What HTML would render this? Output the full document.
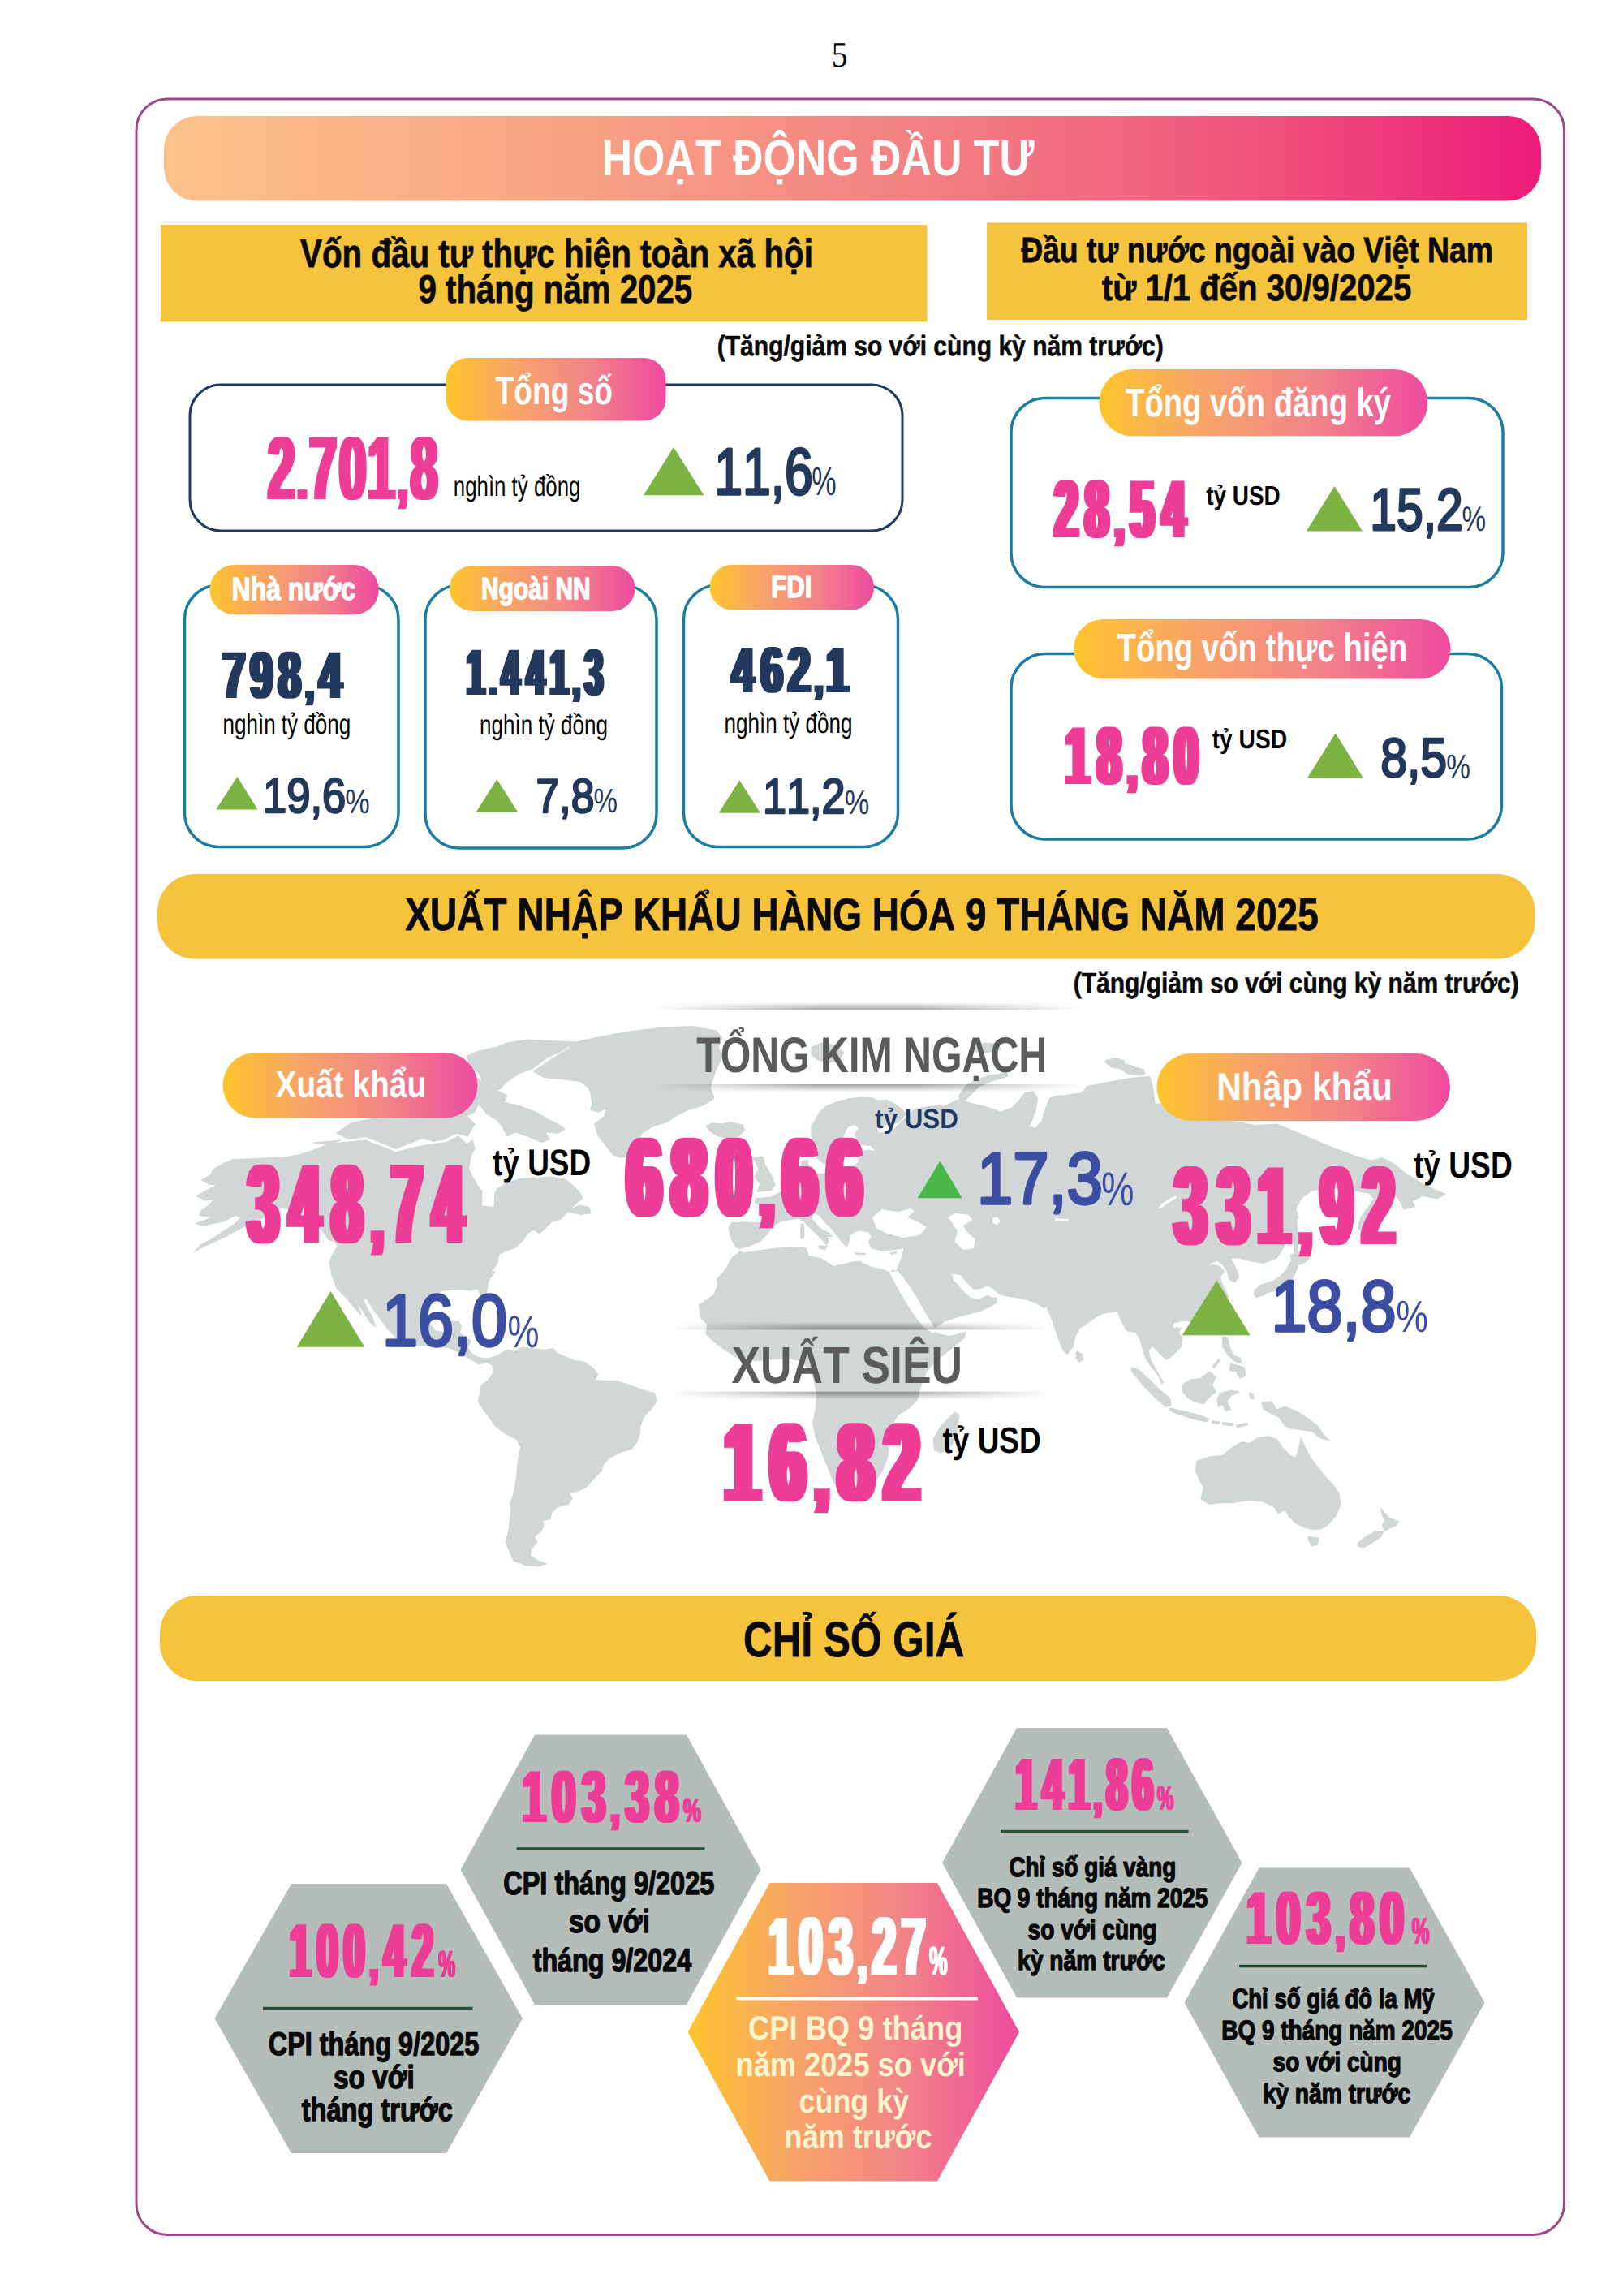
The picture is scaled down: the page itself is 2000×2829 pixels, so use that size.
<!DOCTYPE html>
<html lang="vi"><head><meta charset="utf-8"><title>Hoạt động đầu tư - Xuất nhập khẩu - Chỉ số giá</title>
<style>
html,body{margin:0;padding:0;background:#fff}
body{width:2000px;height:2829px;overflow:hidden}
svg{display:block}
text{font-kerning:none;text-rendering:geometricPrecision;white-space:pre}
</style></head><body>
<svg width="2000" height="2829" viewBox="0 0 2000 2829">
<defs>
<linearGradient id="gBanner" x1="0" x2="1" y1="0" y2="0"><stop offset="0" stop-color="#fcc38b"/><stop offset="0.3" stop-color="#f8a384"/><stop offset="0.55" stop-color="#f38083"/><stop offset="0.8" stop-color="#ee527c"/><stop offset="1" stop-color="#ec1c79"/></linearGradient>
<linearGradient id="gPill" x1="0" x2="1" y1="0" y2="0"><stop offset="0" stop-color="#fdc52c"/><stop offset="0.3" stop-color="#f8a666"/><stop offset="0.65" stop-color="#f28488"/><stop offset="1" stop-color="#ee4b9f"/></linearGradient>
<linearGradient id="gHex" x1="0" x2="1" y1="0" y2="0"><stop offset="0" stop-color="#fdc52c"/><stop offset="0.3" stop-color="#f8a666"/><stop offset="0.65" stop-color="#f28488"/><stop offset="1" stop-color="#ee4b9f"/></linearGradient>
<linearGradient id="gShT" x1="0" x2="0" y1="0" y2="1"><stop offset="0" stop-color="#000" stop-opacity="0"/><stop offset="1" stop-color="#000" stop-opacity="0.35"/></linearGradient>
<linearGradient id="gShB" x1="0" x2="0" y1="0" y2="1"><stop offset="0" stop-color="#000" stop-opacity="0.35"/><stop offset="1" stop-color="#000" stop-opacity="0"/></linearGradient>
<linearGradient id="gFade" x1="0" x2="1" y1="0" y2="0"><stop offset="0" stop-color="#000"/><stop offset="0.38" stop-color="#fff"/><stop offset="0.62" stop-color="#fff"/><stop offset="1" stop-color="#000"/></linearGradient>
<mask id="mFade" maskContentUnits="objectBoundingBox"><rect x="0" y="0" width="1" height="1" fill="url(#gFade)"/></mask>
<filter id="fat0_8" x="-5%" y="-5%" width="110%" height="110%"><feMorphology operator="dilate" radius="0.8 0"/></filter><filter id="fat2_5" x="-5%" y="-5%" width="110%" height="110%"><feMorphology operator="dilate" radius="2.5 0"/></filter><filter id="fat3_0" x="-5%" y="-5%" width="110%" height="110%"><feMorphology operator="dilate" radius="3.0 0"/></filter><filter id="fat3_5" x="-5%" y="-5%" width="110%" height="110%"><feMorphology operator="dilate" radius="3.5 0"/></filter><filter id="fat5_0" x="-5%" y="-5%" width="110%" height="110%"><feMorphology operator="dilate" radius="5.0 0"/></filter><filter id="fat5_5" x="-5%" y="-5%" width="110%" height="110%"><feMorphology operator="dilate" radius="5.5 0"/></filter>
</defs>
<rect x="0" y="0" width="2000" height="2829" fill="#fff"/>
<text transform="translate(1024.69 82.00) scale(0.9027 1)" font-size="44.00" font-family="'Liberation Serif',serif" font-weight="400" fill="#000" >5</text>
<rect x="168.0" y="122.0" width="1759.5" height="2631.5" rx="38.0" ry="38.0" fill="none" stroke="#9e4784" stroke-width="3" />
<rect x="202.0" y="143.0" width="1697.0" height="104.5" rx="41.0" ry="41.0" fill="url(#gBanner)" />
<text transform="translate(741.53 216.00) scale(0.8301 1)" font-size="62.50" font-family="'Liberation Sans',sans-serif" font-weight="700" fill="#fff" >HOẠT ĐỘNG ĐẦU TƯ</text>
<rect x="198.0" y="277.0" width="944.5" height="119.5" rx="0.0" ry="0.0" fill="#f6c43c" />
<text transform="translate(370.05 328.60) scale(0.8233 1)" font-size="48.98" font-family="'Liberation Sans',sans-serif" font-weight="700" fill="#0a0a0a" stroke="#0a0a0a" stroke-width="0.80" stroke-linejoin="round" >Vốn đầu tư thực hiện toàn xã hội</text>
<text transform="translate(515.43 372.60) scale(0.8219 1)" font-size="48.98" font-family="'Liberation Sans',sans-serif" font-weight="700" fill="#0a0a0a" stroke="#0a0a0a" stroke-width="0.80" stroke-linejoin="round" >9 tháng năm 2025</text>
<rect x="1216.0" y="274.5" width="666.0" height="119.5" rx="0.0" ry="0.0" fill="#f6c43c" />
<text transform="translate(1258.19 322.60) scale(0.8492 1)" font-size="43.90" font-family="'Liberation Sans',sans-serif" font-weight="700" fill="#0a0a0a" stroke="#0a0a0a" stroke-width="0.80" stroke-linejoin="round" >Đầu tư nước ngoài vào Việt Nam</text>
<text transform="translate(1357.86 369.60) scale(0.8846 1)" font-size="45.35" font-family="'Liberation Sans',sans-serif" font-weight="700" fill="#0a0a0a" stroke="#0a0a0a" stroke-width="0.80" stroke-linejoin="round" >từ 1/1 đến 30/9/2025</text>
<text transform="translate(883.76 438.30) scale(0.8644 1)" font-size="34.74" font-family="'Liberation Sans',sans-serif" font-weight="700" fill="#0a0a0a" stroke="#0a0a0a" stroke-width="0.60" stroke-linejoin="round" >(Tăng/giảm so với cùng kỳ năm trước)</text>
<rect x="234.0" y="474.0" width="878.0" height="180.0" rx="38.0" ry="38.0" fill="none" stroke="#203764" stroke-width="3" />
<rect x="549.5" y="441.0" width="271.0" height="77.5" rx="27.0" ry="27.0" fill="url(#gPill)" />
<text transform="translate(610.58 497.50) scale(0.7630 1)" font-size="48.69" font-family="'Liberation Sans',sans-serif" font-weight="700" fill="#fff" >Tổng số</text>
<g filter="url(#fat3_0)"><text transform="translate(0 615.20) scale(0.5403 1)" y="0" font-size="110.38" font-family="'Liberation Sans',sans-serif" font-weight="700" fill="#ee3d96"><tspan x="611.4">2</tspan><tspan x="678.5" font-size="79.48">.</tspan><tspan x="705.9">7</tspan><tspan x="773.7">0</tspan><tspan x="839.1">1</tspan><tspan x="907.6" font-size="79.48">,</tspan><tspan x="936.4">8</tspan></text></g>
<text transform="translate(558.78 611.20) scale(0.7382 1)" font-size="35.00" font-family="'Liberation Sans',sans-serif" font-weight="400" fill="#000" >nghìn tỷ đồng</text>
<polygon points="830.0,551.0 793.0,610.3 867.5,610.3" fill="#7cb342"/>
<text transform="translate(880.21 609.06) scale(0.7695 1)" font-size="81.17" font-family="'Liberation Sans',sans-serif" font-weight="400" fill="#22395c" stroke="#22395c" stroke-width="3.28" stroke-linejoin="round" stroke-linecap="round">11,6</text>
<text transform="translate(1000.28 610.30) scale(0.6892 1)" font-size="49.50" font-family="'Liberation Sans',sans-serif" font-weight="400" fill="#22395c" >%</text>
<rect x="227.5" y="721.0" width="263.5" height="322.5" rx="42.0" ry="42.0" fill="none" stroke="#1b7ca2" stroke-width="3.5" />
<rect x="258.5" y="696.0" width="208.3" height="61.3" rx="30.6" ry="30.6" fill="url(#gPill)" />
<text transform="translate(285.57 739.15) scale(0.8121 1)" font-size="39.39" font-family="'Liberation Sans',sans-serif" font-weight="700" fill="#fff" stroke="#fff" stroke-width="1.50" stroke-linejoin="round" >Nhà nước</text>
<g filter="url(#fat2_5)"><text transform="translate(0 860.00) scale(0.6135 1)" y="0" font-size="81.93" font-family="'Liberation Sans',sans-serif" font-weight="700" fill="#22395c"><tspan x="447.2">7</tspan><tspan x="502.5">9</tspan><tspan x="558.6">8</tspan><tspan x="613.8" font-size="58.99">,</tspan><tspan x="641.1">4</tspan></text></g>
<text transform="translate(274.47 903.70) scale(0.7440 1)" font-size="35.00" font-family="'Liberation Sans',sans-serif" font-weight="400" fill="#000" >nghìn tỷ đồng</text>
<polygon points="292.4,957.0 266.1,997.5 317.6,997.5" fill="#7cb342"/>
<text transform="translate(324.06 1001.08) scale(0.8716 1)" font-size="60.24" font-family="'Liberation Sans',sans-serif" font-weight="400" fill="#22395c" stroke="#22395c" stroke-width="2.44" stroke-linejoin="round" stroke-linecap="round">19,6</text>
<text transform="translate(425.28 1002.00) scale(0.8151 1)" font-size="42.00" font-family="'Liberation Sans',sans-serif" font-weight="400" fill="#22395c" >%</text>
<rect x="524.0" y="721.0" width="285.0" height="324.0" rx="42.0" ry="42.0" fill="none" stroke="#1b7ca2" stroke-width="3.5" />
<rect x="554.0" y="697.0" width="228.5" height="56.0" rx="28.0" ry="28.0" fill="url(#gPill)" />
<text transform="translate(593.09 737.75) scale(0.7917 1)" font-size="37.79" font-family="'Liberation Sans',sans-serif" font-weight="700" fill="#fff" stroke="#fff" stroke-width="1.50" stroke-linejoin="round" >Ngoài NN</text>
<g filter="url(#fat2_5)"><text transform="translate(0 856.40) scale(0.5039 1)" y="0" font-size="80.23" font-family="'Liberation Sans',sans-serif" font-weight="700" fill="#22395c"><tspan x="1141.1">1</tspan><tspan x="1197.7" font-size="57.76">.</tspan><tspan x="1226.6">4</tspan><tspan x="1287.7">4</tspan><tspan x="1344.9">1</tspan><tspan x="1401.5" font-size="57.76">,</tspan><tspan x="1429.9">3</tspan></text></g>
<text transform="translate(591.07 904.50) scale(0.7440 1)" font-size="35.00" font-family="'Liberation Sans',sans-serif" font-weight="400" fill="#000" >nghìn tỷ đồng</text>
<polygon points="612.4,960.3 586.5,1000.7 638.2,1000.7" fill="#7cb342"/>
<text transform="translate(660.59 1000.51) scale(0.8766 1)" font-size="59.01" font-family="'Liberation Sans',sans-serif" font-weight="400" fill="#22395c" stroke="#22395c" stroke-width="2.39" stroke-linejoin="round" stroke-linecap="round">7,8</text>
<text transform="translate(731.52 1001.40) scale(0.7889 1)" font-size="42.00" font-family="'Liberation Sans',sans-serif" font-weight="400" fill="#22395c" >%</text>
<rect x="842.5" y="721.0" width="264.0" height="322.5" rx="42.0" ry="42.0" fill="none" stroke="#1b7ca2" stroke-width="3.5" />
<rect x="874.5" y="696.0" width="202.5" height="55.5" rx="27.8" ry="27.8" fill="url(#gPill)" />
<text transform="translate(950.13 736.05) scale(0.8252 1)" font-size="37.79" font-family="'Liberation Sans',sans-serif" font-weight="700" fill="#fff" stroke="#fff" stroke-width="1.50" stroke-linejoin="round" >FDI</text>
<g filter="url(#fat2_5)"><text transform="translate(0 853.30) scale(0.6191 1)" y="0" font-size="80.09" font-family="'Liberation Sans',sans-serif" font-weight="700" fill="#22395c"><tspan x="1456.7">4</tspan><tspan x="1513.8">6</tspan><tspan x="1568.6">2</tspan><tspan x="1621.9" font-size="57.66">,</tspan><tspan x="1644.9">1</tspan></text></g>
<text transform="translate(892.57 902.50) scale(0.7440 1)" font-size="35.00" font-family="'Liberation Sans',sans-serif" font-weight="400" fill="#000" >nghìn tỷ đồng</text>
<polygon points="911.3,961.4 885.6,1001.7 937.1,1001.7" fill="#7cb342"/>
<text transform="translate(939.98 1001.77) scale(0.8597 1)" font-size="60.78" font-family="'Liberation Sans',sans-serif" font-weight="400" fill="#22395c" stroke="#22395c" stroke-width="2.46" stroke-linejoin="round" stroke-linecap="round">11,2</text>
<text transform="translate(1040.68 1002.70) scale(0.8180 1)" font-size="42.00" font-family="'Liberation Sans',sans-serif" font-weight="400" fill="#22395c" >%</text>
<rect x="1246.0" y="490.5" width="606.0" height="233.0" rx="42.0" ry="42.0" fill="none" stroke="#1b7ca2" stroke-width="3.5" />
<rect x="1354.5" y="455.0" width="404.8" height="82.3" rx="41.0" ry="41.0" fill="url(#gPill)" />
<text transform="translate(1387.07 513.00) scale(0.7737 1)" font-size="49.42" font-family="'Liberation Sans',sans-serif" font-weight="700" fill="#fff" >Tổng vốn đăng ký</text>
<g filter="url(#fat3_5)"><text transform="translate(0 662.00) scale(0.5106 1)" y="0" font-size="101.00" font-family="'Liberation Sans',sans-serif" font-weight="700" fill="#ee3d96"><tspan x="2545.3">2</tspan><tspan x="2618.8">8</tspan><tspan x="2691.5" font-size="72.72">,</tspan><tspan x="2728.2">5</tspan><tspan x="2804.6">4</tspan></text></g>
<text transform="translate(1486.16 621.50) scale(0.8350 1)" font-size="33.43" font-family="'Liberation Sans',sans-serif" font-weight="700" fill="#000" >tỷ USD</text>
<polygon points="1644.5,598.9 1609.9,654.5 1679.0,654.5" fill="#7cb342"/>
<text transform="translate(1688.31 653.02) scale(0.8062 1)" font-size="73.02" font-family="'Liberation Sans',sans-serif" font-weight="400" fill="#22395c" stroke="#22395c" stroke-width="2.95" stroke-linejoin="round" stroke-linecap="round">15,2</text>
<text transform="translate(1801.51 654.00) scale(0.7734 1)" font-size="43.00" font-family="'Liberation Sans',sans-serif" font-weight="400" fill="#22395c" >%</text>
<rect x="1246.0" y="805.5" width="604.5" height="228.5" rx="42.0" ry="42.0" fill="none" stroke="#1b7ca2" stroke-width="3.5" />
<rect x="1323.0" y="763.0" width="464.5" height="73.5" rx="36.7" ry="36.7" fill="url(#gPill)" />
<text transform="translate(1376.57 815.00) scale(0.7757 1)" font-size="49.42" font-family="'Liberation Sans',sans-serif" font-weight="700" fill="#fff" >Tổng vốn thực hiện</text>
<g filter="url(#fat3_5)"><text transform="translate(0 966.00) scale(0.5266 1)" y="0" font-size="101.00" font-family="'Liberation Sans',sans-serif" font-weight="700" fill="#ee3d96"><tspan x="2493.4">1</tspan><tspan x="2567.3">8</tspan><tspan x="2639.1" font-size="72.72">,</tspan><tspan x="2675.0">8</tspan><tspan x="2747.8">0</tspan></text></g>
<text transform="translate(1493.66 922.00) scale(0.8443 1)" font-size="33.43" font-family="'Liberation Sans',sans-serif" font-weight="700" fill="#000" >tỷ USD</text>
<polygon points="1645.7,903.2 1610.9,958.8 1680.1,958.8" fill="#7cb342"/>
<text transform="translate(1701.13 957.42) scale(0.8671 1)" font-size="67.99" font-family="'Liberation Sans',sans-serif" font-weight="400" fill="#22395c" stroke="#22395c" stroke-width="2.75" stroke-linejoin="round" stroke-linecap="round">8,5</text>
<text transform="translate(1782.21 958.60) scale(0.7947 1)" font-size="42.00" font-family="'Liberation Sans',sans-serif" font-weight="400" fill="#22395c" >%</text>
<rect x="194.0" y="1077.0" width="1697.5" height="104.5" rx="46.0" ry="46.0" fill="#f6c43c" />
<text transform="translate(499.42 1146.10) scale(0.8227 1)" font-size="55.96" font-family="'Liberation Sans',sans-serif" font-weight="700" fill="#0a0a0a" stroke="#0a0a0a" stroke-width="0.80" stroke-linejoin="round" >XUẤT NHẬP KHẨU HÀNG HÓA 9 THÁNG NĂM 2025</text>
<text transform="translate(1322.77 1223.00) scale(0.8628 1)" font-size="34.74" font-family="'Liberation Sans',sans-serif" font-weight="700" fill="#0a0a0a" stroke="#0a0a0a" stroke-width="0.60" stroke-linejoin="round" >(Tăng/giảm so với cùng kỳ năm trước)</text>
<g id="map">
<path fill="#d1d7d6" stroke="#d1d7d6" stroke-width="1.2" stroke-linejoin="round" d="M606.7 1680.0 L613.3 1670.0 L625.0 1663.3 L633.3 1665.7 L643.3 1660.0 L656.7 1661.7 L670.0 1663.3 L681.7 1661.7 L685.0 1666.7 L696.7 1671.7 L708.3 1676.7 L720.0 1678.3 L730.0 1685.0 L736.7 1693.3 L733.3 1700.0 L745.0 1701.7 L760.0 1701.7 L776.7 1706.7 L793.3 1713.3 L806.7 1716.7 L809.3 1726.7 L803.3 1735.0 L795.0 1743.3 L789.3 1755.0 L788.3 1766.7 L785.0 1776.7 L778.3 1785.0 L763.3 1790.0 L750.0 1796.7 L743.3 1805.0 L741.7 1811.7 L731.7 1821.7 L723.3 1831.7 L713.3 1836.7 L701.7 1840.0 L705.0 1846.7 L700.0 1853.3 L686.7 1856.7 L680.0 1863.3 L678.3 1871.7 L668.3 1873.3 L670.0 1881.7 L665.0 1888.3 L658.3 1893.3 L661.7 1900.0 L655.0 1908.3 L653.3 1916.7 L663.3 1923.3 L673.3 1926.7 L663.3 1930.0 L646.7 1928.3 L633.3 1923.3 L628.3 1913.3 L623.3 1900.0 L626.7 1886.7 L628.3 1873.3 L630.0 1860.0 L628.3 1853.3 L633.3 1840.0 L636.7 1820.0 L638.3 1800.0 L641.7 1783.3 L636.7 1773.3 L623.3 1766.7 L610.0 1756.7 L601.7 1745.0 L593.3 1733.3 L589.3 1726.7 L591.7 1716.7 L593.3 1706.7 L601.7 1700.0 L608.3 1691.7Z M420.0 1405.0 L405.0 1410.0 L385.0 1417.5 L370.0 1422.5 L350.0 1426.2 L312.5 1427.5 L287.5 1428.8 L275.0 1433.8 L262.5 1441.2 L260.0 1447.5 L248.8 1453.8 L257.5 1458.8 L267.5 1460.0 L255.0 1466.2 L242.5 1473.8 L252.5 1478.8 L265.0 1477.5 L257.5 1485.0 L247.5 1492.5 L246.2 1497.5 L257.5 1498.8 L267.5 1496.2 L252.5 1503.8 L241.2 1507.5 L250.0 1510.0 L275.0 1505.0 L290.0 1497.5 L297.5 1500.0 L290.0 1507.5 L275.0 1517.5 L260.0 1527.5 L247.5 1533.8 L239.5 1542.5 L252.5 1535.0 L270.0 1527.5 L287.5 1518.8 L302.5 1510.0 L325.0 1500.0 L347.5 1487.5 L380.0 1497.5 L400.0 1520.0 L405.0 1527.5 L412.5 1530.0 L416.2 1535.0 L410.0 1545.0 L406.2 1555.0 L408.8 1570.0 L415.0 1587.5 L427.5 1600.0 L437.5 1612.5 L445.0 1619.8 L438.3 1600.0 L446.7 1615.0 L456.0 1629.3 L462.7 1634.7 L459.3 1624.0 L452.0 1610.7 L446.7 1600.0 L451.7 1600.0 L460.0 1613.3 L470.0 1626.7 L480.0 1640.0 L490.0 1650.0 L506.7 1656.7 L530.0 1658.3 L553.3 1660.7 L566.7 1666.7 L580.0 1675.0 L590.0 1680.7 L600.0 1679.0 L606.7 1681.7 L613.3 1670.7 L603.3 1673.3 L596.7 1674.0 L586.7 1671.7 L580.0 1666.7 L576.7 1660.0 L580.0 1651.7 L571.7 1646.7 L566.7 1641.7 L568.3 1633.3 L565.0 1628.3 L556.7 1628.3 L553.3 1636.7 L546.7 1641.7 L536.7 1640.0 L530.0 1631.7 L526.7 1620.0 L528.3 1606.7 L533.3 1596.7 L543.3 1590.7 L553.3 1589.3 L566.7 1588.3 L580.0 1590.0 L588.3 1587.3 L591.7 1595.0 L595.0 1598.3 L598.3 1596.7 L600.7 1587.3 L601.7 1578.3 L610.0 1566.7 L605.0 1567.5 L612.5 1557.5 L615.0 1545.0 L627.5 1540.0 L635.0 1537.5 L645.0 1527.5 L650.0 1520.0 L657.5 1515.0 L665.0 1520.0 L670.0 1515.0 L680.0 1505.0 L690.0 1502.5 L700.0 1492.5 L715.0 1496.2 L727.5 1495.0 L726.2 1487.5 L715.0 1485.0 L702.5 1490.0 L712.5 1480.0 L717.5 1476.2 L715.0 1470.0 L705.0 1460.0 L695.0 1452.5 L680.0 1450.0 L640.0 1452.5 L625.0 1457.5 L612.5 1465.0 L610.0 1470.0 L608.8 1487.5 L593.8 1486.2 L593.8 1467.5 L587.5 1460.0 L582.5 1450.0 L577.5 1440.0 L580.0 1425.0 L585.0 1415.0 L582.5 1405.0 L575.0 1410.0 L565.0 1400.0 L550.0 1407.5 L530.0 1410.0 L505.0 1415.0 L487.5 1420.0 L470.0 1412.5 L450.0 1405.0 L425.0 1407.5 L400.0 1410.0 L385.0 1408.0Z M415.0 1396.2 L432.5 1383.8 L462.5 1377.5 L482.5 1370.0 L505.0 1367.5 L540.0 1370.0 L575.0 1375.0 L585.0 1385.0 L576.2 1400.0 L562.5 1396.2 L547.5 1403.8 L535.0 1406.2 L520.0 1402.5 L505.0 1408.8 L487.5 1415.5 L475.0 1410.0 L450.0 1400.5 L430.0 1403.8Z M575.0 1301.2 L590.0 1295.0 L612.5 1290.0 L625.0 1285.0 L650.0 1281.2 L675.0 1282.5 L712.5 1283.8 L745.0 1277.5 L770.0 1272.5 L800.0 1268.8 L825.0 1267.5 L825.0 1290.0 L785.0 1292.5 L757.5 1297.5 L732.5 1297.5 L712.5 1286.2 L700.0 1290.0 L687.5 1297.5 L675.0 1302.5 L665.0 1310.0 L655.0 1317.5 L640.0 1322.5 L625.0 1332.5 L615.0 1342.5 L600.0 1342.5 L595.0 1332.5 L590.0 1322.5 L580.0 1315.0Z M590.0 1360.0 L600.0 1355.0 L617.5 1357.5 L640.0 1362.5 L660.0 1370.0 L672.5 1377.5 L687.5 1385.0 L696.2 1391.2 L687.5 1396.2 L672.5 1395.0 L677.5 1403.8 L667.5 1407.5 L650.0 1400.0 L635.0 1395.0 L625.0 1400.0 L620.0 1390.0 L612.5 1380.0 L600.0 1372.5Z M580.0 1322.5 L597.5 1335.0 L615.0 1345.0 L625.0 1350.0 L620.0 1360.0 L600.0 1355.0 L590.0 1360.0 L585.0 1370.0 L575.0 1375.0 L555.0 1370.0 L540.0 1360.0 L550.0 1342.5 L565.0 1330.0Z M657.5 1320.0 L680.0 1305.0 L700.0 1292.5 L715.0 1282.5 L740.0 1277.5 L775.0 1271.2 L815.0 1266.2 L852.5 1264.5 L882.5 1270.0 L890.0 1278.8 L885.0 1290.0 L890.0 1302.5 L882.5 1317.5 L875.0 1340.0 L880.0 1352.5 L877.5 1355.0 L865.0 1362.5 L847.5 1367.5 L832.5 1375.0 L822.5 1382.5 L805.0 1387.5 L792.5 1395.0 L780.0 1412.5 L770.0 1425.0 L765.0 1426.2 L755.0 1422.5 L747.5 1412.5 L737.5 1400.0 L732.5 1385.0 L745.0 1375.0 L747.5 1365.0 L737.5 1370.0 L727.5 1367.5 L730.0 1360.0 L727.5 1345.0 L725.0 1340.0 L715.0 1332.5 L695.0 1330.0 L670.0 1327.5Z M870.0 1387.5 L877.5 1383.8 L890.0 1385.0 L900.0 1382.5 L915.0 1386.2 L917.5 1392.5 L910.0 1400.0 L895.0 1402.5 L882.5 1398.8 L875.0 1393.8Z M900.0 1523.3 L898.3 1511.7 L901.7 1506.7 L920.0 1506.0 L940.0 1507.3 L950.0 1496.7 L943.3 1486.7 L930.0 1481.7 L931.7 1476.7 L950.0 1475.0 L963.3 1468.3 L973.3 1460.0 L983.3 1453.3 L986.7 1443.3 L988.3 1430.0 L995.0 1430.0 L996.7 1441.7 L1006.7 1446.7 L1026.7 1445.0 L1046.7 1441.7 L1058.3 1431.7 L1056.7 1420.0 L1070.0 1417.3 L1080.0 1418.3 L1073.3 1411.7 L1060.0 1410.0 L1053.3 1398.3 L1058.3 1390.0 L1053.3 1385.0 L1044.0 1389.3 L1038.3 1401.7 L1031.7 1416.7 L1023.3 1430.0 L1015.0 1434.0 L1006.7 1426.7 L1003.3 1413.3 L1000.0 1400.0 L1000.0 1386.7 L1005.0 1380.0 L1010.0 1370.0 L1020.0 1362.3 L1032.3 1357.3 L1047.3 1353.7 L1062.3 1352.0 L1075.0 1353.0 L1082.3 1356.0 L1092.3 1355.0 L1100.0 1358.7 L1110.0 1365.0 L1116.7 1372.7 L1106.7 1383.3 L1086.7 1386.7 L1078.3 1383.3 L1083.3 1396.7 L1100.0 1393.3 L1113.3 1380.0 L1126.7 1366.7 L1146.7 1363.3 L1166.7 1361.7 L1180.0 1355.0 L1200.0 1360.0 L1213.3 1363.3 L1233.3 1370.0 L1246.7 1365.0 L1255.0 1356.7 L1263.3 1346.7 L1273.3 1345.0 L1278.3 1353.3 L1276.7 1366.7 L1271.7 1380.0 L1266.7 1390.0 L1283.3 1383.3 L1288.3 1366.7 L1293.3 1353.3 L1303.3 1350.0 L1310.0 1350.0 L1333.3 1346.7 L1340.0 1338.3 L1366.7 1333.3 L1393.3 1328.3 L1416.7 1326.7 L1416.7 1326.7 L1420.0 1336.7 L1423.3 1360.0 L1473.3 1360.0 L1520.0 1381.7 L1546.7 1386.7 L1573.3 1385.0 L1593.3 1393.3 L1616.7 1403.3 L1640.0 1413.3 L1666.7 1423.3 L1690.0 1430.0 L1703.3 1426.7 L1716.7 1433.3 L1733.3 1446.7 L1750.0 1456.7 L1770.0 1466.7 L1781.7 1471.7 L1770.0 1476.7 L1753.3 1473.3 L1740.0 1480.0 L1743.3 1486.7 L1730.0 1490.0 L1723.3 1476.7 L1720.0 1473.3 L1706.7 1486.7 L1690.0 1503.3 L1676.7 1516.7 L1673.3 1513.3 L1676.7 1500.0 L1686.7 1486.7 L1693.3 1476.7 L1686.7 1470.0 L1666.7 1466.7 L1640.0 1463.3 L1616.7 1466.7 L1603.3 1476.7 L1596.7 1490.0 L1600.0 1500.0 L1593.3 1513.3 L1586.7 1526.7 L1580.0 1540.0 L1573.3 1550.0 L1556.7 1556.7 L1540.0 1553.3 L1526.7 1550.0 L1516.7 1550.0 L1521.7 1560.0 L1526.7 1573.3 L1521.7 1580.0 L1515.0 1576.7 L1511.7 1565.0 L1506.7 1558.3 L1500.0 1553.3 L1491.7 1556.7 L1486.7 1568.3 L1493.3 1558.3 L1503.3 1560.7 L1508.3 1566.7 L1503.3 1573.3 L1506.7 1583.3 L1513.3 1596.7 L1510.0 1610.0 L1503.3 1623.3 L1490.0 1630.0 L1476.7 1631.7 L1463.3 1627.3 L1456.7 1627.3 L1446.7 1630.0 L1441.7 1638.3 L1445.0 1635.0 L1451.7 1640.0 L1456.7 1650.0 L1455.0 1660.0 L1446.7 1668.3 L1438.3 1675.0 L1436.7 1675.0 L1426.7 1665.0 L1420.0 1658.3 L1415.0 1665.0 L1418.3 1676.7 L1426.7 1691.7 L1433.3 1703.3 L1431.7 1705.0 L1426.7 1693.3 L1418.3 1683.3 L1411.7 1673.3 L1408.3 1663.3 L1405.0 1650.0 L1400.0 1641.7 L1390.0 1640.0 L1386.7 1636.7 L1380.0 1623.3 L1377.3 1615.0 L1370.0 1616.7 L1358.3 1618.3 L1350.0 1623.3 L1340.0 1630.0 L1330.0 1636.7 L1325.0 1646.7 L1321.7 1660.0 L1315.0 1668.3 L1310.0 1663.3 L1303.3 1646.7 L1296.7 1626.7 L1290.0 1610.0 L1286.7 1611.7 L1276.7 1605.0 L1260.0 1600.0 L1240.0 1596.7 L1226.7 1593.3 L1228.3 1605.0 L1216.7 1611.7 L1203.3 1616.7 L1183.3 1621.7 L1163.3 1628.3 L1150.0 1636.7 L1151.7 1640.0 L1155.0 1643.3 L1170.0 1646.7 L1190.0 1641.7 L1188.3 1648.3 L1170.0 1663.3 L1153.3 1676.7 L1141.7 1690.0 L1135.0 1706.7 L1130.0 1725.0 L1120.0 1735.0 L1106.7 1743.3 L1096.7 1760.0 L1095.0 1780.0 L1093.3 1796.7 L1086.7 1813.3 L1076.7 1826.7 L1063.3 1838.3 L1046.7 1841.7 L1033.3 1836.7 L1025.0 1820.0 L1018.3 1803.3 L1011.7 1786.7 L1005.0 1770.0 L1001.7 1753.3 L1005.0 1736.7 L1006.7 1720.0 L1003.3 1700.0 L996.7 1686.7 L986.7 1676.7 L970.0 1673.3 L950.0 1675.0 L930.0 1676.7 L906.7 1671.7 L893.3 1663.3 L880.0 1653.3 L870.0 1643.3 L871.7 1631.7 L863.3 1623.3 L861.7 1608.3 L880.0 1595.0 L885.0 1581.7 L883.3 1576.7 L895.0 1563.3 L901.7 1550.0 L915.0 1540.0 L911.7 1540.7 L911.7 1538.3 L906.7 1536.7Z M928.3 1426.7 L940.0 1425.0 L943.3 1436.7 L950.0 1446.7 L955.0 1460.0 L950.0 1466.7 L933.3 1468.3 L936.7 1458.3 L930.0 1450.0 L935.0 1440.0Z M915.0 1443.3 L925.0 1441.7 L927.3 1451.7 L920.0 1458.3 L912.7 1455.0Z M1000.0 1290.0 L1013.3 1285.0 L1030.0 1288.3 L1040.0 1296.7 L1033.3 1306.7 L1020.0 1310.0 L1006.7 1305.0 L1000.0 1300.0Z M1200.0 1290.0 L1213.3 1285.0 L1230.0 1286.7 L1233.3 1293.3 L1216.7 1296.7 L1203.3 1296.0Z M1181.7 1350.0 L1190.0 1338.3 L1200.0 1331.7 L1216.7 1326.0 L1240.0 1321.7 L1241.7 1326.0 L1223.3 1331.7 L1206.7 1338.3 L1196.7 1348.3 L1188.3 1356.7 L1182.7 1356.0Z M1363.3 1306.0 L1376.7 1306.7 L1386.7 1310.7 L1410.0 1318.3 L1408.3 1321.7 L1386.7 1316.7 L1366.7 1311.7Z M1361.7 1308.3 L1373.3 1303.3 L1385.0 1306.7 L1386.7 1313.3 L1396.7 1316.7 L1411.7 1321.7 L1406.7 1325.0 L1390.0 1323.3 L1380.0 1316.7 L1370.0 1315.0Z M1591.7 1500.0 L1596.7 1498.3 L1599.3 1520.0 L1598.3 1541.7 L1595.0 1543.3 L1593.3 1523.3Z M1546.0 1590.0 L1553.3 1583.3 L1566.7 1579.3 L1577.3 1573.3 L1585.0 1565.0 L1590.0 1555.0 L1594.0 1551.7 L1600.0 1555.0 L1598.3 1563.3 L1594.0 1573.3 L1586.7 1582.7 L1575.0 1589.3 L1561.7 1592.7 L1555.0 1596.7 L1548.3 1598.3 L1545.0 1595.0Z M1590.0 1546.7 L1598.3 1542.7 L1608.3 1545.0 L1614.0 1550.0 L1608.3 1555.0 L1601.7 1558.3 L1595.0 1556.0 L1591.7 1551.7Z M1326.7 1665.0 L1333.3 1668.3 L1335.0 1675.0 L1330.0 1678.3 L1326.0 1673.3Z M1449.3 1635.0 L1455.0 1636.7 L1453.3 1640.7 L1449.3 1639.3Z M1506.7 1646.7 L1513.3 1648.3 L1515.0 1660.0 L1520.0 1670.0 L1528.3 1673.3 L1530.0 1680.0 L1523.3 1678.3 L1513.3 1670.0 L1506.7 1660.0Z M1516.7 1680.0 L1533.3 1685.0 L1535.0 1695.0 L1528.3 1698.3 L1523.3 1690.0 L1515.0 1688.3Z M1494.0 1684.0 L1502.0 1674.7 L1504.0 1676.0 L1496.0 1685.3Z M1395.0 1685.0 L1403.3 1688.3 L1416.7 1700.0 L1430.0 1713.3 L1441.7 1723.3 L1443.3 1731.7 L1436.7 1733.3 L1423.3 1721.7 L1410.0 1708.3 L1400.0 1696.7 L1394.0 1688.3Z M1441.7 1735.0 L1456.7 1738.3 L1476.7 1743.3 L1490.0 1748.3 L1486.7 1751.7 L1470.0 1748.3 L1450.0 1741.7 L1440.7 1737.3Z M1494.0 1750.7 L1503.3 1752.0 L1502.7 1754.7 L1494.0 1753.3Z M1506.7 1752.7 L1520.0 1754.0 L1519.3 1756.7 L1506.7 1755.3Z M1523.3 1756.0 L1536.7 1753.3 L1537.3 1756.0 L1525.0 1758.7Z M1456.7 1706.7 L1466.7 1700.0 L1480.0 1698.3 L1490.0 1690.0 L1498.3 1696.7 L1493.3 1706.7 L1498.3 1715.0 L1490.0 1721.7 L1483.3 1730.0 L1471.7 1726.7 L1463.3 1721.7 L1456.7 1713.3Z M1503.3 1716.7 L1516.7 1713.3 L1526.7 1715.0 L1516.7 1720.0 L1511.7 1726.7 L1516.7 1736.7 L1510.0 1738.3 L1506.7 1730.0 L1501.7 1733.3 L1500.0 1725.0Z M1539.3 1716.0 L1544.0 1717.3 L1545.3 1724.0 L1540.7 1722.7Z M1555.0 1728.3 L1566.7 1726.7 L1573.3 1736.7 L1583.3 1733.3 L1596.7 1738.3 L1610.0 1746.7 L1623.3 1756.7 L1630.0 1766.7 L1638.3 1775.0 L1626.7 1771.7 L1616.7 1763.3 L1603.3 1761.7 L1590.0 1760.0 L1583.3 1756.7 L1576.7 1746.7 L1563.3 1740.0 L1556.7 1735.0Z M1475.0 1800.0 L1490.0 1795.0 L1506.7 1793.3 L1516.7 1785.0 L1530.0 1776.7 L1540.0 1778.3 L1550.0 1771.7 L1563.3 1770.0 L1573.3 1773.3 L1580.0 1783.3 L1590.0 1793.3 L1596.7 1796.7 L1601.7 1780.0 L1603.3 1771.7 L1608.3 1783.3 L1615.0 1796.7 L1623.3 1806.7 L1633.3 1820.0 L1643.3 1830.0 L1650.0 1840.0 L1651.7 1853.3 L1646.7 1866.7 L1638.3 1876.7 L1630.0 1883.3 L1618.3 1885.0 L1606.7 1881.7 L1596.7 1876.7 L1588.3 1868.3 L1583.3 1860.0 L1575.0 1865.0 L1570.0 1856.7 L1556.7 1850.0 L1536.7 1848.3 L1520.0 1851.7 L1503.3 1851.7 L1490.0 1853.3 L1480.0 1846.7 L1483.3 1833.3 L1478.3 1823.3 L1473.3 1811.7Z M1611.7 1893.3 L1625.0 1895.0 L1623.3 1903.3 L1616.7 1905.0 L1612.7 1898.3Z M1701.7 1858.3 L1706.7 1865.0 L1711.7 1870.0 L1723.3 1875.0 L1720.0 1880.0 L1711.7 1883.3 L1706.7 1886.7 L1703.3 1880.0 L1706.7 1873.3 L1703.3 1866.7Z M1673.3 1901.7 L1683.3 1893.3 L1695.0 1886.7 L1705.0 1886.7 L1701.7 1893.3 L1690.0 1901.7 L1680.0 1906.7 L1673.3 1905.0Z M1176.7 1740.0 L1181.7 1743.3 L1180.0 1760.0 L1173.3 1780.0 L1160.0 1790.0 L1151.7 1786.7 L1150.0 1773.3 L1160.0 1756.7 L1170.0 1746.7Z"/>
<path fill="#fff" d="M911.7 1538.7 L923.3 1536.0 L936.7 1530.0 L945.0 1521.7 L950.0 1515.0 L955.0 1510.0 L963.3 1505.0 L973.3 1503.3 L983.3 1501.7 L990.0 1505.0 L996.7 1511.7 L1005.0 1520.0 L1013.3 1528.3 L1018.3 1535.0 L1021.7 1530.0 L1020.0 1524.0 L1026.7 1524.0 L1021.7 1518.3 L1013.3 1515.0 L1005.0 1506.7 L1000.0 1500.0 L1003.3 1495.0 L1010.0 1498.3 L1016.7 1506.7 L1025.0 1515.0 L1031.7 1523.3 L1036.7 1530.0 L1043.3 1536.7 L1046.7 1530.0 L1048.3 1521.7 L1053.3 1518.3 L1060.0 1516.7 L1070.0 1518.3 L1073.3 1523.3 L1070.0 1530.0 L1073.3 1538.3 L1086.7 1541.7 L1103.3 1540.0 L1113.3 1538.3 L1111.7 1546.7 L1106.7 1560.0 L1103.3 1566.7 L1096.7 1567.3 L1086.7 1563.3 L1073.3 1560.7 L1060.0 1554.0 L1053.3 1554.0 L1040.0 1557.3 L1026.7 1560.0 L1013.3 1550.7 L996.7 1546.7 L993.3 1537.3 L980.0 1536.0 L950.0 1538.3 L916.7 1543.3 L911.7 1541.0Z M1075.0 1500.0 L1086.7 1490.0 L1106.7 1493.3 L1121.7 1489.3 L1126.7 1491.7 L1118.3 1500.0 L1133.3 1506.7 L1141.7 1511.7 L1133.3 1521.7 L1113.3 1525.0 L1093.3 1520.0 L1080.0 1513.3Z M1168.3 1500.0 L1176.7 1495.0 L1193.3 1496.7 L1198.3 1503.3 L1186.7 1510.0 L1193.3 1520.0 L1201.7 1526.7 L1200.0 1538.3 L1186.7 1540.0 L1176.7 1530.0 L1180.0 1516.7 L1173.3 1506.7Z M1223.3 1500.7 L1229.3 1499.3 L1232.7 1505.0 L1228.3 1509.3 L1223.3 1506.7Z M1300.0 1501.3 L1316.7 1502.3 L1316.7 1504.3 L1300.0 1503.7Z M1096.0 1568.3 L1102.7 1580.7 L1111.0 1595.7 L1119.3 1609.3 L1129.3 1624.3 L1139.3 1636.0 L1149.3 1642.7 L1154.0 1640.0 L1152.7 1636.7 L1146.0 1626.7 L1138.3 1614.3 L1130.0 1599.3 L1121.7 1586.0 L1113.3 1574.3 L1106.0 1566.0 L1100.0 1564.7Z M1172.7 1570.0 L1183.3 1571.0 L1191.7 1581.0 L1200.0 1589.3 L1210.0 1587.7 L1216.7 1584.3 L1225.0 1589.3 L1231.7 1595.0 L1225.0 1599.3 L1216.7 1595.7 L1206.7 1600.7 L1196.7 1599.0 L1188.3 1592.3 L1181.7 1584.0 L1175.0 1577.3Z M1279.3 1350.0 L1283.3 1351.7 L1284.0 1366.7 L1281.7 1383.3 L1275.0 1390.0 L1271.7 1388.3 L1277.3 1378.3 L1280.0 1365.0Z M1426.0 1489.3 L1433.3 1481.7 L1443.3 1476.0 L1450.7 1473.3 L1448.3 1476.7 L1440.0 1481.7 L1431.7 1488.3Z"/>
<path fill="#d1d7d6" d="M986.7 1508.3 L990.7 1507.3 L991.7 1516.7 L990.7 1526.7 L986.7 1526.7 L986.0 1516.7Z M1008.3 1534.0 L1020.0 1535.0 L1016.7 1540.7 L1009.3 1538.3Z M1053.3 1543.3 L1066.7 1544.0 L1066.7 1546.0 L1053.3 1545.7Z M1096.7 1543.3 L1105.0 1541.7 L1105.0 1545.0 L1097.3 1546.0Z"/>
</g>
<rect x="805" y="1234.5" width="530" height="10" fill="url(#gShT)" mask="url(#mFade)"/>
<rect x="805" y="1336.0" width="530" height="10" fill="url(#gShB)" mask="url(#mFade)"/>
<rect x="820" y="1628.6" width="480" height="10" fill="url(#gShT)" mask="url(#mFade)"/>
<rect x="820" y="1714.5" width="480" height="10" fill="url(#gShB)" mask="url(#mFade)"/>
<text transform="translate(858.16 1321.20) scale(0.7821 1)" font-size="61.77" font-family="'Liberation Sans',sans-serif" font-weight="700" fill="#5b5b5b" >TỔNG KIM NGẠCH</text>
<text transform="translate(901.53 1704.10) scale(0.8341 1)" font-size="63.95" font-family="'Liberation Sans',sans-serif" font-weight="700" fill="#5b5b5b" >XUẤT SIÊU</text>
<rect x="274.5" y="1297.0" width="314.0" height="80.5" rx="40.2" ry="40.2" fill="url(#gPill)" />
<text transform="translate(339.56 1351.90) scale(0.8350 1)" font-size="46.51" font-family="'Liberation Sans',sans-serif" font-weight="700" fill="#fff" >Xuất khẩu</text>
<g filter="url(#fat5_0)"><text transform="translate(0 1530.80) scale(0.4885 1)" y="0" font-size="137.98" font-family="'Liberation Sans',sans-serif" font-weight="700" fill="#ee3d96"><tspan x="625.9">3</tspan><tspan x="730.7">4</tspan><tspan x="837.4">8</tspan><tspan x="938.3" font-size="99.35">,</tspan><tspan x="988.4">7</tspan><tspan x="1092.1">4</tspan></text></g>
<text transform="translate(607.05 1448.00) scale(0.8101 1)" font-size="45.64" font-family="'Liberation Sans',sans-serif" font-weight="700" fill="#000" >tỷ USD</text>
<polygon points="407.5,1591.0 365.6,1659.7 449.4,1659.7" fill="#7cb342"/>
<text transform="translate(471.08 1657.98) scale(0.8772 1)" font-size="90.15" font-family="'Liberation Sans',sans-serif" font-weight="400" fill="#3b4ea1" stroke="#3b4ea1" stroke-width="3.65" stroke-linejoin="round" stroke-linecap="round">16,0</text>
<text transform="translate(625.44 1659.60) scale(0.7816 1)" font-size="56.00" font-family="'Liberation Sans',sans-serif" font-weight="400" fill="#3b4ea1" >%</text>
<g filter="url(#fat5_5)"><text transform="translate(0 1497.50) scale(0.5428 1)" y="0" font-size="137.84" font-family="'Liberation Sans',sans-serif" font-weight="700" fill="#ee3d96"><tspan x="1424.0">6</tspan><tspan x="1526.1">8</tspan><tspan x="1628.0">0</tspan><tspan x="1727.1" font-size="99.24">,</tspan><tspan x="1777.8">6</tspan><tspan x="1879.3">6</tspan></text></g>
<text transform="translate(1078.32 1390.30) scale(0.9232 1)" font-size="33.87" font-family="'Liberation Sans',sans-serif" font-weight="700" fill="#1f3864" >tỷ USD</text>
<polygon points="1158.3,1430.5 1130.7,1476.3 1185.6,1476.3" fill="#4ab749"/>
<text transform="translate(1203.95 1483.17) scale(0.8804 1)" font-size="90.42" font-family="'Liberation Sans',sans-serif" font-weight="400" fill="#3b4ea1" stroke="#3b4ea1" stroke-width="3.66" stroke-linejoin="round" stroke-linecap="round">17,3</text>
<text transform="translate(1357.19 1485.00) scale(0.7733 1)" font-size="58.50" font-family="'Liberation Sans',sans-serif" font-weight="400" fill="#3b4ea1" >%</text>
<rect x="1425.5" y="1298.0" width="361.5" height="83.0" rx="41.5" ry="41.5" fill="url(#gPill)" />
<text transform="translate(1499.17 1355.00) scale(0.8971 1)" font-size="47.24" font-family="'Liberation Sans',sans-serif" font-weight="700" fill="#fff" >Nhập khẩu</text>
<g filter="url(#fat5_0)"><text transform="translate(0 1532.70) scale(0.5156 1)" y="0" font-size="137.55" font-family="'Liberation Sans',sans-serif" font-weight="700" fill="#ee3d96"><tspan x="2807.5">3</tspan><tspan x="2909.7">3</tspan><tspan x="3006.4">1</tspan><tspan x="3106.1" font-size="99.04">,</tspan><tspan x="3156.1">9</tspan><tspan x="3256.5">2</tspan></text></g>
<text transform="translate(1741.95 1450.50) scale(0.8141 1)" font-size="45.64" font-family="'Liberation Sans',sans-serif" font-weight="700" fill="#000" >tỷ USD</text>
<polygon points="1499.3,1577.4 1456.8,1645.3 1540.6,1645.3" fill="#7cb342"/>
<text transform="translate(1566.47 1639.50) scale(0.8869 1)" font-size="89.20" font-family="'Liberation Sans',sans-serif" font-weight="400" fill="#3b4ea1" stroke="#3b4ea1" stroke-width="3.61" stroke-linejoin="round" stroke-linecap="round">18,8</text>
<text transform="translate(1720.20 1641.00) scale(0.8136 1)" font-size="55.00" font-family="'Liberation Sans',sans-serif" font-weight="400" fill="#3b4ea1" >%</text>
<g filter="url(#fat5_5)"><text transform="translate(0 1849.00) scale(0.5580 1)" y="0" font-size="137.27" font-family="'Liberation Sans',sans-serif" font-weight="700" fill="#ee3d96"><tspan x="1600.5">1</tspan><tspan x="1702.1">6</tspan><tspan x="1801.0" font-size="98.83">,</tspan><tspan x="1851.6">8</tspan><tspan x="1953.2">2</tspan></text></g>
<text transform="translate(1161.55 1789.50) scale(0.8198 1)" font-size="45.06" font-family="'Liberation Sans',sans-serif" font-weight="700" fill="#000" >tỷ USD</text>
<rect x="197.0" y="1966.0" width="1696.0" height="105.0" rx="46.0" ry="46.0" fill="#f6c43c" />
<text transform="translate(915.89 2041.20) scale(0.8077 1)" font-size="61.34" font-family="'Liberation Sans',sans-serif" font-weight="700" fill="#0a0a0a" stroke="#0a0a0a" stroke-width="0.80" stroke-linejoin="round" >CHỈ SỐ GIÁ</text>
<polygon points="359.0,2321.0 550.0,2321.0 644.0,2487.0 550.0,2653.0 359.0,2653.0 264.5,2487.0" fill="#b5bdbb"/>
<g filter="url(#fat3_0)"><text transform="translate(0 2436.20) scale(0.4943 1)" y="0" font-size="94.17" font-family="'Liberation Sans',sans-serif" font-weight="700" fill="#ee3d96"><tspan x="722.3">1</tspan><tspan x="790.1">0</tspan><tspan x="856.7">0</tspan><tspan x="922.5" font-size="67.80">,</tspan><tspan x="957.2">4</tspan><tspan x="1027.6">2</tspan></text></g>
<g filter="url(#fat0_8)"><text transform="translate(540.22 2436.00) scale(0.4983 1)" font-size="46.94" font-family="'Liberation Sans',sans-serif" font-weight="700" fill="#ee3d96" >%</text></g>
<rect x="324.0" y="2472.8" width="258.5" height="3.5" fill="#294f38"/>
<text transform="translate(330.74 2532.30) scale(0.8086 1)" font-size="40.12" font-family="'Liberation Sans',sans-serif" font-weight="700" fill="#0a0a0a" stroke="#0a0a0a" stroke-width="1.40" stroke-linejoin="round" >CPI tháng 9/2025</text>
<text transform="translate(410.91 2572.80) scale(0.8327 1)" font-size="40.12" font-family="'Liberation Sans',sans-serif" font-weight="700" fill="#0a0a0a" stroke="#0a0a0a" stroke-width="1.40" stroke-linejoin="round" >so với</text>
<text transform="translate(371.67 2613.30) scale(0.8125 1)" font-size="40.12" font-family="'Liberation Sans',sans-serif" font-weight="700" fill="#0a0a0a" stroke="#0a0a0a" stroke-width="1.40" stroke-linejoin="round" >tháng trước</text>
<polygon points="659.0,2137.5 846.0,2137.5 937.5,2303.8 846.0,2470.0 659.0,2470.0 567.5,2303.8" fill="#b5bdbb"/>
<g filter="url(#fat3_0)"><text transform="translate(0 2245.00) scale(0.5702 1)" y="0" font-size="91.04" font-family="'Liberation Sans',sans-serif" font-weight="700" fill="#ee3d96"><tspan x="1129.0">1</tspan><tspan x="1193.2">0</tspan><tspan x="1257.7">3</tspan><tspan x="1320.2" font-size="65.55">,</tspan><tspan x="1351.6">3</tspan><tspan x="1415.8">8</tspan></text></g>
<g filter="url(#fat0_8)"><text transform="translate(841.68 2245.00) scale(0.6047 1)" font-size="41.25" font-family="'Liberation Sans',sans-serif" font-weight="700" fill="#ee3d96" >%</text></g>
<rect x="636.5" y="2276.2" width="232.0" height="3.5" fill="#294f38"/>
<text transform="translate(620.23 2333.80) scale(0.8102 1)" font-size="40.12" font-family="'Liberation Sans',sans-serif" font-weight="700" fill="#0a0a0a" stroke="#0a0a0a" stroke-width="1.40" stroke-linejoin="round" >CPI tháng 9/2025</text>
<text transform="translate(700.91 2381.30) scale(0.8327 1)" font-size="40.12" font-family="'Liberation Sans',sans-serif" font-weight="700" fill="#0a0a0a" stroke="#0a0a0a" stroke-width="1.40" stroke-linejoin="round" >so với</text>
<text transform="translate(656.67 2429.30) scale(0.8042 1)" font-size="40.12" font-family="'Liberation Sans',sans-serif" font-weight="700" fill="#0a0a0a" stroke="#0a0a0a" stroke-width="1.40" stroke-linejoin="round" >tháng 9/2024</text>
<polygon points="948.5,2320.0 1155.0,2320.0 1256.0,2503.8 1155.0,2687.5 948.5,2687.5 847.5,2503.8" fill="url(#gHex)"/>
<g filter="url(#fat3_0)"><text transform="translate(0 2432.50) scale(0.5174 1)" y="0" font-size="101.71" font-family="'Liberation Sans',sans-serif" font-weight="700" fill="#fff"><tspan x="1830.6">1</tspan><tspan x="1902.1">0</tspan><tspan x="1973.9">3</tspan><tspan x="2043.6" font-size="73.23">,</tspan><tspan x="2077.3">2</tspan><tspan x="2147.3">7</tspan></text></g>
<g filter="url(#fat0_8)"><text transform="translate(1145.18 2432.50) scale(0.5010 1)" font-size="49.79" font-family="'Liberation Sans',sans-serif" font-weight="700" fill="#fff" >%</text></g>
<rect x="907.5" y="2460.5" width="297.5" height="4.0" fill="#fff"/>
<text transform="translate(922.01 2512.50) scale(0.8770 1)" font-size="41.42" font-family="'Liberation Sans',sans-serif" font-weight="700" fill="#fdf5cd" >CPI BQ 9 tháng</text>
<text transform="translate(906.61 2557.50) scale(0.8743 1)" font-size="41.42" font-family="'Liberation Sans',sans-serif" font-weight="700" fill="#fdf5cd" >năm 2025 so với</text>
<text transform="translate(984.60 2602.50) scale(0.8662 1)" font-size="41.42" font-family="'Liberation Sans',sans-serif" font-weight="700" fill="#fdf5cd" >cùng kỳ</text>
<text transform="translate(966.62 2646.50) scale(0.8701 1)" font-size="41.42" font-family="'Liberation Sans',sans-serif" font-weight="700" fill="#fdf5cd" >năm trước</text>
<polygon points="1253.0,2129.0 1438.0,2129.0 1530.5,2295.2 1438.0,2461.5 1253.0,2461.5 1161.0,2295.2" fill="#b5bdbb"/>
<g filter="url(#fat2_5)"><text transform="translate(0 2229.50) scale(0.5014 1)" y="0" font-size="91.75" font-family="'Liberation Sans',sans-serif" font-weight="700" fill="#ee3d96"><tspan x="2496.0">1</tspan><tspan x="2562.2">4</tspan><tspan x="2626.0">1</tspan><tspan x="2689.1" font-size="66.06">,</tspan><tspan x="2719.2">8</tspan><tspan x="2783.1">6</tspan></text></g>
<g filter="url(#fat0_8)"><text transform="translate(1425.72 2229.50) scale(0.5426 1)" font-size="42.67" font-family="'Liberation Sans',sans-serif" font-weight="700" fill="#ee3d96" >%</text></g>
<rect x="1233.0" y="2254.8" width="231.5" height="3.5" fill="#294f38"/>
<text transform="translate(1243.44 2311.80) scale(0.8296 1)" font-size="33.58" font-family="'Liberation Sans',sans-serif" font-weight="700" fill="#0a0a0a" stroke="#0a0a0a" stroke-width="1.40" stroke-linejoin="round" >Chỉ số giá vàng</text>
<text transform="translate(1204.21 2350.30) scale(0.8317 1)" font-size="33.58" font-family="'Liberation Sans',sans-serif" font-weight="700" fill="#0a0a0a" stroke="#0a0a0a" stroke-width="1.40" stroke-linejoin="round" >BQ 9 tháng năm 2025</text>
<text transform="translate(1266.60 2388.80) scale(0.8356 1)" font-size="33.58" font-family="'Liberation Sans',sans-serif" font-weight="700" fill="#0a0a0a" stroke="#0a0a0a" stroke-width="1.40" stroke-linejoin="round" >so với cùng</text>
<text transform="translate(1254.12 2427.30) scale(0.8403 1)" font-size="33.58" font-family="'Liberation Sans',sans-serif" font-weight="700" fill="#0a0a0a" stroke="#0a0a0a" stroke-width="1.40" stroke-linejoin="round" >kỳ năm trước</text>
<polygon points="1551.5,2301.5 1737.0,2301.5 1829.5,2467.5 1737.0,2633.5 1551.5,2633.5 1459.5,2467.5" fill="#b5bdbb"/>
<g filter="url(#fat3_0)"><text transform="translate(0 2395.00) scale(0.5674 1)" y="0" font-size="92.46" font-family="'Liberation Sans',sans-serif" font-weight="700" fill="#ee3d96"><tspan x="2707.4">1</tspan><tspan x="2772.5">0</tspan><tspan x="2837.8">3</tspan><tspan x="2901.2" font-size="66.57">,</tspan><tspan x="2932.2">8</tspan><tspan x="2997.0">0</tspan></text></g>
<g filter="url(#fat0_8)"><text transform="translate(1739.69 2395.00) scale(0.5266 1)" font-size="46.23" font-family="'Liberation Sans',sans-serif" font-weight="700" fill="#ee3d96" >%</text></g>
<rect x="1527.0" y="2420.8" width="231.0" height="3.5" fill="#294f38"/>
<text transform="translate(1518.45 2474.30) scale(0.8193 1)" font-size="33.58" font-family="'Liberation Sans',sans-serif" font-weight="700" fill="#0a0a0a" stroke="#0a0a0a" stroke-width="1.40" stroke-linejoin="round" >Chỉ số giá đô la Mỹ</text>
<text transform="translate(1505.21 2513.30) scale(0.8331 1)" font-size="33.58" font-family="'Liberation Sans',sans-serif" font-weight="700" fill="#0a0a0a" stroke="#0a0a0a" stroke-width="1.40" stroke-linejoin="round" >BQ 9 tháng năm 2025</text>
<text transform="translate(1568.60 2551.80) scale(0.8330 1)" font-size="33.58" font-family="'Liberation Sans',sans-serif" font-weight="700" fill="#0a0a0a" stroke="#0a0a0a" stroke-width="1.40" stroke-linejoin="round" >so với cùng</text>
<text transform="translate(1556.62 2590.80) scale(0.8403 1)" font-size="33.58" font-family="'Liberation Sans',sans-serif" font-weight="700" fill="#0a0a0a" stroke="#0a0a0a" stroke-width="1.40" stroke-linejoin="round" >kỳ năm trước</text>
</svg>
</body></html>
